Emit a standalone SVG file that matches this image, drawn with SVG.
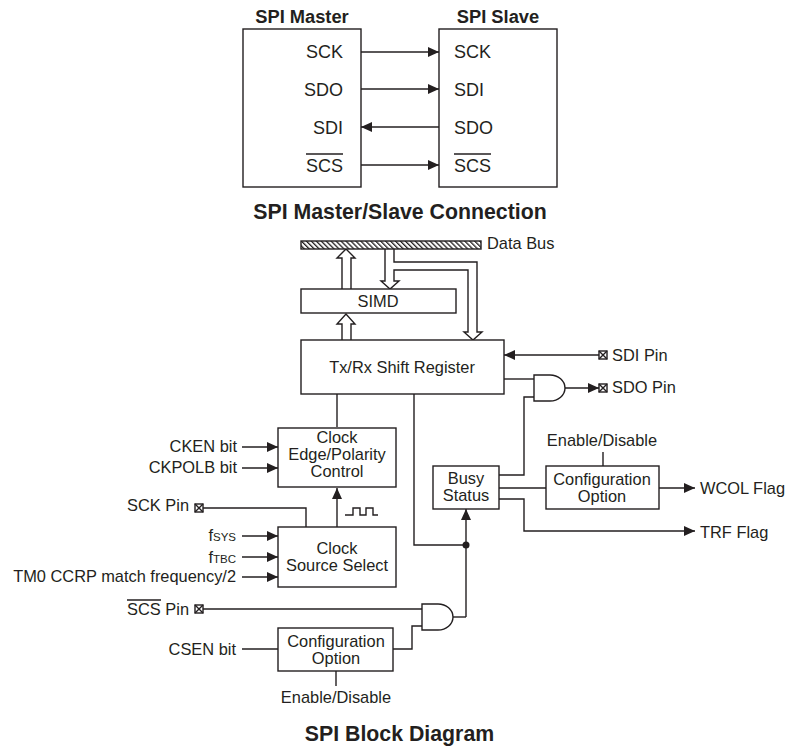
<svg xmlns="http://www.w3.org/2000/svg" width="788" height="747" viewBox="0 0 788 747">
<style>
text{font-family:"Liberation Sans",Arial,sans-serif;font-size:16.4px;fill:#231f20}
.b{font-weight:bold;font-size:18.3px}
.t{font-weight:bold;font-size:21.3px}
.k{font-size:18px}
.m{text-anchor:middle}.e{text-anchor:end}
.s{font-size:11.5px}
rect,path.l,line{fill:none;stroke:#231f20;stroke-width:1.4}
path.w{fill:#fff;stroke:#231f20;stroke-width:1.4}
rect.n{fill:#fff}
</style>
<defs>
<marker id="a" markerUnits="userSpaceOnUse" markerWidth="12" markerHeight="12" refX="11" refY="5" orient="auto"><path d="M0 0L11 5L0 10Z" fill="#231f20"/></marker>
<pattern id="h" patternUnits="userSpaceOnUse" width="3.500" height="3.500" patternTransform="rotate(-45)"><rect width="3.500" height="3.500" style="fill:#fff;stroke:none"/><rect width="1.300" height="3.500" style="fill:#231f20;stroke:none"/></pattern>
</defs>
<g id="connectors">
<path class="l" marker-end="url(#a)" d="M361 52H439"/>
<path class="l" marker-end="url(#a)" d="M361 89H439"/>
<path class="l" marker-end="url(#a)" d="M439 127H361"/>
<path class="l" marker-end="url(#a)" d="M361 165H439"/>
<path class="w" d="M342 289V258H337L346 249L355 258H351V289"/>
<path class="w" d="M342 340V324H337L346 314L355 324H351V340"/>
<path class="w" d="M385 249V281H381L390 289L399 281H394V270H468V332H464L473 340L482 332H477V262H394V249"/>
<path class="l" d="M337 394V427"/>
<path class="l" d="M414 394V545H466"/>
<path class="l" marker-end="url(#a)" d="M466 617V509"/>
<circle cx="466" cy="545" r="3.500" fill="#231f20"/>
<path class="l" marker-end="url(#a)" d="M599 355H504"/>
<path class="l" d="M504 379H534"/>
<path class="l" marker-end="url(#a)" d="M565 388H599"/>
<path class="l" d="M499 475H524V397H534"/>
<path class="l" d="M499 488H546"/>
<path class="l" marker-end="url(#a)" d="M659 488H695"/>
<path class="l" marker-end="url(#a)" d="M499 499H524V531H695"/>
<path class="l" d="M603 452V466"/>
<path class="l" marker-end="url(#a)" d="M242 447H278"/>
<path class="l" marker-end="url(#a)" d="M242 468H278"/>
<path class="l" marker-end="url(#a)" d="M337 527V488"/>
<path class="l" d="M203 508H306V527"/>
<path class="l" marker-end="url(#a)" d="M242 536H278"/>
<path class="l" marker-end="url(#a)" d="M242 557H278"/>
<path class="l" marker-end="url(#a)" d="M242 577H278"/>
<path class="l" d="M345 515H353V508H360V515H366V508H373V515H378"/>
<path class="l" d="M203 609H422"/>
<path class="l" d="M242 649H278"/>
<path class="l" d="M393 649H412V626H422"/>
<path class="l" d="M453 617H466"/>
<path class="l" d="M336 671V686"/>
</g>
<g id="pins">
<g id="pin-sdi"><rect x="599" y="351" width="8" height="8"/><path class="l" d="M599 351l8 8M607 351l-8 8"/></g>
<g id="pin-sdo"><rect x="599" y="384" width="8" height="8"/><path class="l" d="M599 384l8 8M607 384l-8 8"/></g>
<g id="pin-sck"><rect x="195" y="504" width="8" height="8"/><path class="l" d="M195 504l8 8M203 504l-8 8"/></g>
<g id="pin-scs"><rect x="195" y="605" width="8" height="8"/><path class="l" d="M195 605l8 8M203 605l-8 8"/></g>
</g>
<g id="master"><rect x="243" y="29" width="118" height="158"/>
<text class="b m" x="302" y="23">SPI Master</text>
<text class="e k" x="343" y="58">SCK</text><text class="e k" x="343" y="96">SDO</text><text class="e k" x="343" y="134">SDI</text><text class="e k" x="343" y="172">SCS</text><path class="l" d="M306 154H343"/></g>
<g id="slave"><rect x="439" y="29" width="118" height="158"/>
<text class="b m" x="498" y="23">SPI Slave</text>
<text class="k" x="454" y="58">SCK</text><text class="k" x="454" y="96">SDI</text><text class="k" x="454" y="134">SDO</text><text class="k" x="454" y="172">SCS</text><path class="l" d="M454 154H491"/></g>
<text class="t m" x="400" y="219">SPI Master/Slave Connection</text>
<g id="bus"><rect x="301" y="241" width="180" height="8" style="fill:url(#h)"/><text x="487" y="249">Data Bus</text></g>
<g id="simd"><rect class="n" x="301" y="289" width="155" height="24"/><text class="m" x="378" y="307">SIMD</text></g>
<g id="shift"><rect class="n" x="301" y="340" width="203" height="54"/><text class="m" x="402" y="373">Tx/Rx Shift Register</text></g>
<text x="612" y="361">SDI Pin</text>
<text x="612" y="393">SDO Pin</text>
<g id="and1"><path class="w" d="M534 375H550A15 13 0 0 1 550 401H534Z"/></g>
<g id="busy"><rect x="433" y="466" width="66" height="43"/><text class="m" x="466" y="484">Busy</text><text class="m" x="466" y="501">Status</text></g>
<g id="config1"><rect x="546" y="466" width="113" height="43"/><text class="m" x="602" y="485">Configuration</text><text class="m" x="602" y="502">Option</text><text class="m" x="602" y="446">Enable/Disable</text></g>
<text x="700" y="494">WCOL Flag</text>
<text x="700" y="538">TRF Flag</text>
<g id="edge"><rect x="278" y="428" width="118" height="59"/><text class="m" x="337" y="443">Clock</text><text class="m" x="337" y="460">Edge/Polarity</text><text class="m" x="337" y="477">Control</text></g>
<text class="e" x="237" y="452">CKEN bit</text>
<text class="e" x="237" y="473">CKPOLB bit</text>
<text class="e" x="189" y="511">SCK Pin</text>
<g id="source"><rect x="278" y="527" width="118" height="60"/><text class="m" x="337" y="554">Clock</text><text class="m" x="337" y="571">Source Select</text></g>
<text class="e" x="236" y="541">f<tspan class="s">SYS</tspan></text>
<text class="e" x="236" y="563">f<tspan class="s">TBC</tspan></text>
<text class="e" x="236" y="582">TM0 CCRP match frequency/2</text>
<text class="e" x="189" y="615">SCS Pin</text><path class="l" d="M127 600H161"/>
<g id="and2"><path class="w" d="M422 604H438A15 13 0 0 1 438 630H422Z"/></g>
<g id="config2"><rect x="278" y="628" width="115" height="43"/><text class="m" x="336" y="646.500">Configuration</text><text class="m" x="336" y="663.500">Option</text></g>
<text class="e" x="236" y="655">CSEN bit</text>
<text class="m" x="336" y="703">Enable/Disable</text>
<text class="t m" x="399.500" y="741">SPI Block Diagram</text>
</svg>
